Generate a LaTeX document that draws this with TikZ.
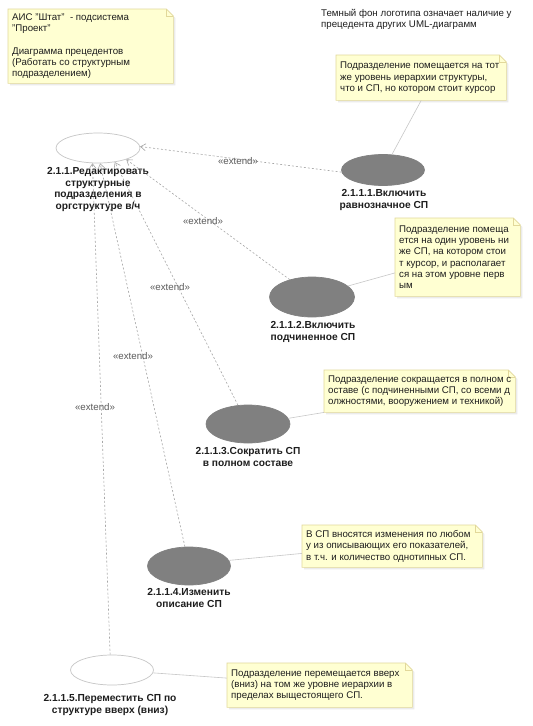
\documentclass[tikz,border=0pt]{standalone}
\usepackage{fontspec}
\setmainfont{Liberation Sans}
\usetikzlibrary{arrows.meta,shapes.geometric,backgrounds,calc}
\definecolor{notefill}{HTML}{FFFFD2}
\definecolor{notedraw}{HTML}{E2D89A}
\definecolor{darkuc}{HTML}{808080}
\definecolor{lightuc}{HTML}{C6C6C6}
\definecolor{linkgray}{HTML}{A6A6A6}
\definecolor{txt}{HTML}{1E1E1E}
\newcommand\dogear[1]{%
  \fill[black!8] ($(#1.north west)+(2,2)$) -- ($(#1.north east)+(-5,2)$) -- ($(#1.north east)+(2,9)$)
    -- ($(#1.south east)+(2,2)$) -- ($(#1.south west)+(2,2)$) -- cycle;
  \filldraw[draw=notedraw, fill=notefill, line width=0.6pt]
    (#1.north west) -- ($(#1.north east)+(-7,0)$) -- ($(#1.north east)+(0,7)$)
    -- (#1.south east) -- (#1.south west) -- cycle;
  \draw[notedraw, line width=0.6pt] ($(#1.north east)+(-7,0)$) |- ($(#1.north east)+(0,7)$);
}
\begin{document}
\begin{tikzpicture}[x=1pt,y=-1pt,
  uc/.style={ellipse, draw=lightuc, fill=white, line width=0.7pt, inner sep=0pt},
  ucdark/.style={uc, draw=darkuc, fill=darkuc},
  uclabel/.style={font=\bfseries\fontsize{10.2}{11.8}\selectfont, align=center, text=txt, inner sep=0pt, anchor=north},
  note/.style={font=\fontsize{9.7}{11.3}\selectfont, align=flush left, anchor=north west, inner xsep=4pt, inner ysep=0pt, text=txt},
  plaintext/.style={font=\fontsize{9.7}{11}\selectfont, align=left, anchor=north west, inner sep=0pt, text=txt},
  ext/.style={draw=linkgray, dash pattern=on 2pt off 2pt, line width=0.6pt, -{Straight Barb[length=5pt,width=7pt]}},
  extlabel/.style={font=\fontsize{9.7}{10}\selectfont, text=black!65, inner sep=0pt},
  notelink/.style={draw=black!22, line width=0.6pt}
]
\useasboundingbox (0,0) rectangle (533,726);

% notes
\node[note, text width=157pt, minimum height=74pt] (n0) at (8,9)
  {АИС "Штат"\ \ - подсистема\\"Проект"\\[11.3pt]Диаграмма прецедентов\\(Работать со структурным\\подразделением)};
\node[plaintext] (top) at (321,9)
  {Темный фон логотипа означает наличие у\\прецедента других UML-диаграмм};
\node[note, text width=162pt, minimum height=45pt] (n1) at (336,55)
  {Подразделение помещается на тот\\же уровень иерархии структуры,\\что и СП, но котором стоит курсор};
\node[note, text width=117pt, minimum height=78pt] (n2) at (395,218)
  {Подразделение помеща\\ется на один уровень ни\\же СП, на котором стои\\т курсор, и располагает\\ся на этом уровне перв\\ым};
\node[note, text width=183pt, minimum height=42pt] (n3) at (324,370)
  {Подразделение сокращается в полном с\\оставе (с подчиненными СП, со всеми д\\олжностями, вооружением и техникой)};
\node[note, text width=172pt, minimum height=42pt] (n4) at (302,525)
  {В СП вносятся изменения по любом\\у из описывающих его показателей,\\в т.ч. и количество однотипных СП.};
\node[note, text width=177pt, minimum height=44pt] (n5) at (227,663)
  {Подразделение перемещается вверх\\(вниз) на том же уровне иерархии в\\пределах выщестоящего СП.};

\begin{scope}[on background layer]
  \fill[white] (0,0) rectangle (533,726);
  \dogear{n0}\dogear{n1}\dogear{n2}\dogear{n3}\dogear{n4}\dogear{n5}
\end{scope}

% use cases
\node[uc, minimum width=84pt, minimum height=30pt] (main) at (98,148) {};
\node[uclabel] (lmain) at (98,167) {2.1.1.Редактировать\\структурные\\подразделения в\\оргструктуре в/ч};
\node[ucdark, minimum width=83pt, minimum height=31pt] (e1) at (383,170) {};
\node[uclabel] (l1) at (384,189) {2.1.1.1.Включить\\равнозначное СП};
\node[ucdark, minimum width=85pt, minimum height=40pt] (e2) at (312,297) {};
\node[uclabel] (l2) at (313,321) {2.1.1.2.Включить\\подчиненное СП};
\node[ucdark, minimum width=84pt, minimum height=38pt] (e3) at (248,424) {};
\node[uclabel] (l3) at (248,447) {2.1.1.3.Сократить СП\\в полном составе};
\node[ucdark, minimum width=83pt, minimum height=38pt] (e4) at (189,566) {};
\node[uclabel] (l4) at (189,588) {2.1.1.4.Изменить\\описание СП};
\node[uc, minimum width=83pt, minimum height=30pt] (e5) at (112,670) {};
\node[uclabel] (l5) at (110,694) {2.1.1.5.Переместить СП по\\структуре вверх (вниз)};

% extend connectors
\draw[ext] (e1.183) -- (main.2);
\draw[ext] (e2.142) -- (main.-22);
\draw[ext] (e3.118) -- (main.-40);
\draw[ext] (e4.102) -- (main.-82);
\draw[ext] (e5.97) -- (main.-110);
\node[extlabel] (x1) at (238,161) {«extend»};
\node[extlabel] (x2) at (203,221) {«extend»};
\node[extlabel] (x3) at (170,287) {«extend»};
\node[extlabel] (x4) at (133,356) {«extend»};
\node[extlabel] (x5) at (95,407) {«extend»};

% note links
\draw[notelink] (n1.south) -- (e1.60);
\draw[notelink] (e2.17) -- ($(n2.south west)!0.3!(n2.north west)$);
\draw[notelink] (e3.8) -- (n3.south west);
\draw[notelink] (e4.8) -- ($(n4.south west)!0.33!(n4.north west)$);
\draw[notelink] (e5.-4) -- ($(n5.south west)!0.66!(n5.north west)$);
\end{tikzpicture}
\end{document}
